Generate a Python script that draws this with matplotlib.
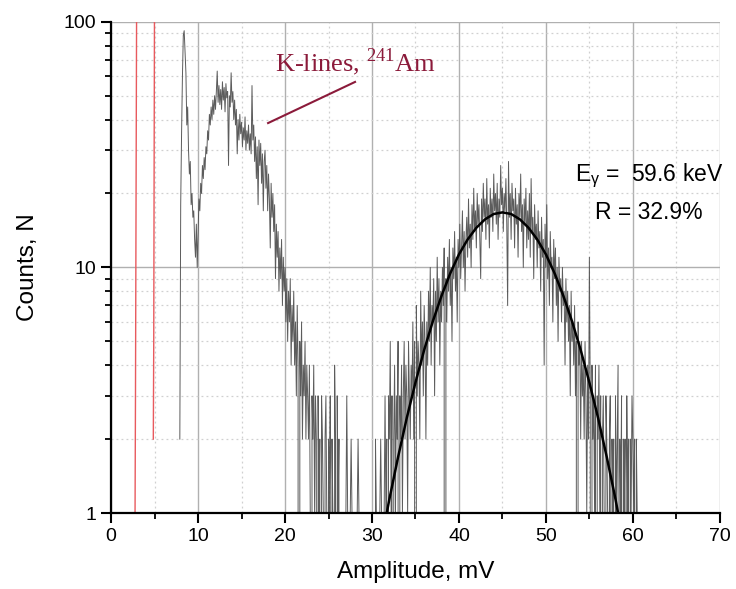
import numpy as np
import matplotlib
matplotlib.use("Agg")
import matplotlib.pyplot as plt
from matplotlib.ticker import FixedLocator, NullFormatter

plt.rcParams["font.family"] = ["Liberation Sans", "DejaVu Sans"]

# measured spectrum, 0.1 mV channels starting at 7.9 mV
CH_START = 7.9
CH_STEP = 0.1
counts = [
    2,
    18, 35, 60, 88, 92, 75, 62, 38, 45, 30,   # 8
    24, 27, 18, 20, 16, 17, 13, 11, 15, 10,   # 9
    14, 19, 17, 22, 20, 26, 23, 28, 25, 31,   # 10
    29, 36, 33, 42, 38, 45, 40, 48, 42, 50,   # 11
    44, 52, 63, 47, 55, 46, 53, 44, 57, 48,   # 12
    54, 43, 56, 49, 52, 26, 50, 45, 62, 47,   # 13
    52, 40, 48, 38, 44, 29, 40, 33, 42, 35,   # 14
    39, 31, 37, 33, 41, 30, 36, 32, 38, 30,   # 15
    35, 29, 55, 33, 38, 27, 34, 23, 31, 18,   # 16
    33, 26, 32, 22, 29, 17, 27, 30, 21, 26,   # 17
    17, 24, 19, 12, 22, 16, 20, 14, 18, 9,    # 18
    15, 11, 14, 8, 12, 9, 13, 7, 11, 8,       # 19
    10, 6, 9, 5, 8, 6, 9, 4, 7, 5,            # 20
    8, 4, 6, 3, 7, 4, 0, 5, 3, 6,             # 21
    2, 4, 3, 5, 2, 4, 3, 2, 4, 1,             # 22
    0, 3, 2, 4, 1, 3, 2, 0, 3, 1,             # 23
    2, 0, 3, 2, 1, 0, 2, 3, 1, 0,             # 24
    2, 1, 3, 0, 2, 1, 0, 4, 2, 0,             # 25
    3, 1, 2, 0, 1, 1, 0, 1, 0, 1,             # 26
    1, 3, 1, 1, 0, 1, 2, 1, 0, 1,             # 27
    1, 1, 0, 1, 2, 1, 1, 0, 1, 1,             # 28
    0, 1, 1, 1, 1, 0, 1, 1, 1, 0,             # 29
    1, 1, 1, 0, 2, 1, 1, 1, 0, 1,             # 30
    2, 1, 0, 1, 1, 3, 1, 2, 0, 3,             # 31
    2, 5, 1, 3, 0, 2, 4, 1, 3, 2,             # 32
    5, 0, 3, 2, 4, 1, 3, 5, 2, 4,             # 33
    3, 1, 5, 3, 2, 4, 3, 6, 2, 5,             # 34
    0, 7, 3, 5, 4, 2, 8, 4, 6, 3,             # 35
    7, 5, 2, 6, 4, 8, 5, 10, 4, 7,            # 36
    6, 9, 3, 8, 5, 11, 6, 9, 4, 8,            # 37
    6, 10, 7, 12, 0, 9, 6, 11, 8, 13,         # 38
    7, 10, 5, 12, 9, 14, 8, 11, 6, 13,        # 39
    10, 15, 9, 12, 17, 10, 14, 8, 13, 16,     # 40
    11, 19, 12, 15, 10, 18, 13, 21, 14, 17,   # 41
    12, 20, 15, 18, 13, 9, 19, 14, 22, 16,    # 42
    19, 13, 23, 15, 18, 12, 21, 16, 19, 14,   # 43
    24, 17, 20, 15, 22, 13, 19, 16, 26, 18,   # 44
    21, 14, 20, 17, 23, 15, 7, 27, 16, 20,    # 45
    13, 22, 17, 19, 12, 21, 15, 18, 11, 20,   # 46
    16, 24, 14, 18, 10, 19, 15, 21, 12, 17,   # 47
    13, 20, 11, 23, 14, 16, 9, 18, 13, 15,    # 48
    10, 17, 12, 14, 8, 16, 11, 13, 4, 15,     # 49
    10, 18, 9, 12, 7, 14, 10, 11, 6, 13,      # 50
    9, 12, 7, 10, 5, 11, 8, 9, 6, 10,         # 51
    7, 8, 4, 9, 6, 8, 5, 7, 3, 8,             # 52
    5, 6, 4, 7, 3, 5, 0, 6, 4, 5,             # 53
    2, 5, 3, 4, 2, 5, 3, 1, 4, 2,             # 54
    11, 3, 0, 4, 2, 3, 1, 4, 0, 3,            # 55
    2, 4, 1, 3, 0, 2, 3, 1, 0, 3,             # 56
    2, 1, 0, 2, 3, 0, 2, 1, 2, 0,             # 57
    3, 1, 2, 4, 0, 2, 1, 3, 0, 2,             # 58
    1, 2, 0, 3, 1, 2, 0, 2, 1, 3,             # 59
    2, 1, 2, 0, 2, 1,                         # 60
]

# gaussian fit of the 59.6 keV photopeak
fit_x = [31.7, 32, 33, 34, 35, 36, 37, 38, 39, 40, 41, 42, 43, 44, 45,
         46, 47, 48, 49, 50, 51, 52, 53, 54, 55, 56, 57, 58, 58.3]
fit_y = [1.0, 1.14, 1.69, 2.44, 3.40, 4.61, 6.04, 7.67, 9.46, 11.3, 13.0,
         14.5, 15.7, 16.5, 16.75, 16.5, 15.7, 14.5, 13.0, 11.3, 9.46, 7.67,
         6.04, 4.61, 3.40, 2.44, 1.69, 1.14, 1.0]

# noise spikes near zero (red trace)
red1_x = [2.75, 2.8, 2.95]
red1_y = [1, 3, 200]
red2_x = [4.85, 4.9, 5.0]
red2_y = [2, 5, 200]

amp = CH_START + CH_STEP * np.arange(len(counts))

fig = plt.figure(figsize=(7.36, 5.89), dpi=100)
ax = fig.add_axes([0.151, 0.129, 0.827, 0.834])

ax.set_yscale("log", nonpositive="clip")
ax.set_xlim(0, 70)
ax.set_ylim(1, 100)

ax.plot(red1_x, red1_y, color="#e85a5e", lw=1.0)
ax.plot(red2_x, red2_y, color="#e85a5e", lw=1.0)
ax.plot(amp, counts, color="#4a4a4a", lw=0.7, alpha=0.9)
ax.plot(fit_x, fit_y, color="black", lw=1.8)

# grid
ax.xaxis.set_major_locator(FixedLocator(range(0, 71, 10)))
ax.xaxis.set_minor_locator(FixedLocator(range(5, 70, 10)))
ax.yaxis.set_major_locator(FixedLocator([1, 10, 100]))
ax.yaxis.set_minor_locator(FixedLocator(list(range(2, 10)) + list(range(20, 100, 10))))
ax.yaxis.set_minor_formatter(NullFormatter())
ax.set_yticklabels(["1", "10", "100"])
ax.grid(which="major", color="#b0b0b0", lw=1.0, ls="-")
ax.grid(which="minor", color="#d0d0d0", lw=0.9, ls=(0, (1.5, 2.5)))
ax.set_axisbelow(True)

for s in ("top", "right"):
    ax.spines[s].set_visible(False)
for s in ("left", "bottom"):
    ax.spines[s].set_linewidth(1.6)

ax.tick_params(which="major", direction="out", length=7, width=1.5, labelsize=14)
ax.tick_params(which="minor", direction="out", length=4, width=1.3)

ax.set_xlabel("Amplitude, mV", fontsize=17.5, labelpad=12)
ax.set_ylabel("Counts, N", fontsize=17.5, labelpad=18)

# annotations
ax.text(18.9, 63, r"K-lines, $^{\mathregular{241}}$Am", color="#8b1a3a",
        fontsize=19, family="Liberation Serif")
ax.plot([18.05, 28.05], [38.7, 56.9], color="#8b1a3a", lw=1.5)
ax.text(53.4, 22.4, r"E$_{\mathregular{\gamma}}$ =  59.6 keV", fontsize=16.5,
        ha="left", va="baseline")
ax.text(55.7, 15.7, "R = 32.9%", fontsize=16.5, ha="left", va="baseline")

fig.savefig("out.png", dpi=100)
